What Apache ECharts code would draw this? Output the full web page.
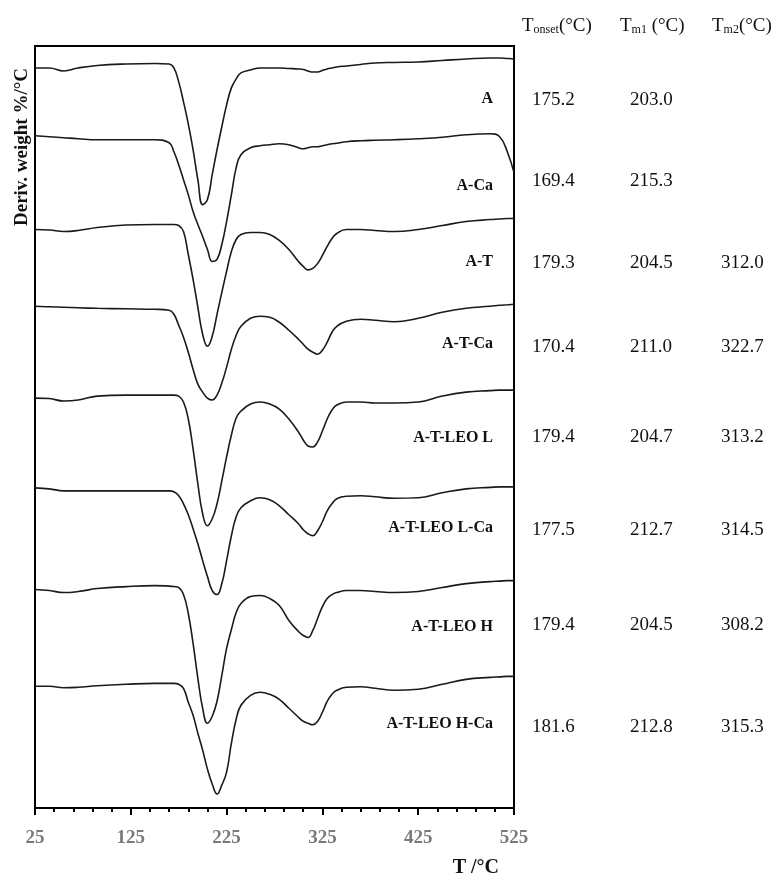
<!DOCTYPE html>
<html><head><meta charset="utf-8">
<script src="https://cdn.jsdelivr.net/npm/echarts@6/dist/echarts.min.js"></script>
<style>html,body{margin:0;padding:0;background:#fff}#c{width:778px;height:878px}</style>
</head><body><div id="c"></div>
<script>
// ---------- DATA ----------
const temps = [25,40,55,70,90,120,150,165,170,175,180,185,190,195,200,205,210,215,220,225,230,235,240,250,260,270,280,290,300,305,310,315,320,325,330,335,340,350,365,380,400,425,450,475,500,510,518,525];
const sampleNames = ['A','A-Ca','A-T','A-T-Ca','A-T-LEO L','A-T-LEO L-Ca','A-T-LEO H','A-T-LEO H-Ca'];
// vertical stacking offset of each curve (axis units)
const offsets = [7.42, 6.73, 5.80, 5.03, 4.11, 3.21, 2.19, 1.22];
const dtgA      = [0,0,-0.03,0,0.025,0.04,0.045,0.04,0,-0.14,-0.34,-0.56,-0.82,-1.12,-1.37,-1.32,-1.07,-0.82,-0.59,-0.37,-0.2,-0.11,-0.05,-0.02,0,0,0,-0.005,-0.01,-0.015,-0.03,-0.04,-0.04,-0.025,-0.01,0,0.01,0.02,0.035,0.05,0.055,0.06,0.075,0.09,0.1,0.1,0.095,0.09];
const dtgACa    = [0.01,0,-0.01,-0.02,-0.03,-0.03,-0.03,-0.06,-0.15,-0.28,-0.43,-0.58,-0.75,-0.88,-1.0,-1.13,-1.25,-1.23,-1.08,-0.85,-0.58,-0.31,-0.18,-0.11,-0.09,-0.08,-0.07,-0.08,-0.11,-0.12,-0.11,-0.1,-0.1,-0.09,-0.08,-0.07,-0.065,-0.05,-0.04,-0.035,-0.03,-0.02,-0.005,0.02,0.03,0,-0.15,-0.36];
const dtgAT     = [0,-0.005,-0.02,-0.01,0.02,0.045,0.05,0.05,0.05,0.04,-0.02,-0.25,-0.5,-0.78,-1.05,-1.17,-1.07,-0.85,-0.63,-0.42,-0.22,-0.1,-0.05,-0.03,-0.03,-0.05,-0.11,-0.2,-0.32,-0.37,-0.405,-0.39,-0.34,-0.26,-0.17,-0.09,-0.04,0,0,-0.01,-0.02,0,0.04,0.08,0.1,0.105,0.11,0.11];
const dtgATCa   = [0,-0.005,-0.01,-0.015,-0.02,-0.025,-0.03,-0.04,-0.08,-0.19,-0.31,-0.46,-0.63,-0.78,-0.86,-0.92,-0.94,-0.89,-0.77,-0.61,-0.43,-0.29,-0.2,-0.12,-0.1,-0.11,-0.16,-0.24,-0.33,-0.38,-0.43,-0.46,-0.48,-0.44,-0.36,-0.26,-0.2,-0.15,-0.13,-0.14,-0.155,-0.12,-0.06,-0.02,0,0.01,0.015,0.02];
const dtgATLL   = [0,-0.005,-0.03,-0.02,0.02,0.03,0.03,0.03,0.03,0.02,-0.04,-0.21,-0.51,-0.86,-1.16,-1.28,-1.21,-1.06,-0.83,-0.59,-0.37,-0.2,-0.13,-0.06,-0.04,-0.06,-0.11,-0.21,-0.34,-0.42,-0.48,-0.49,-0.44,-0.33,-0.21,-0.12,-0.07,-0.04,-0.04,-0.05,-0.05,-0.04,0.02,0.06,0.075,0.08,0.08,0.08];
const dtgATLLCa = [0,-0.01,-0.03,-0.03,-0.03,-0.03,-0.03,-0.03,-0.04,-0.08,-0.16,-0.27,-0.41,-0.56,-0.73,-0.89,-1.03,-1.07,-0.96,-0.73,-0.48,-0.29,-0.2,-0.13,-0.1,-0.12,-0.18,-0.27,-0.36,-0.42,-0.46,-0.48,-0.43,-0.34,-0.23,-0.16,-0.11,-0.085,-0.08,-0.09,-0.105,-0.1,-0.05,-0.01,0.005,0.01,0.01,0.01];
const dtgATLH   = [0,-0.01,-0.03,-0.02,0.01,0.03,0.04,0.035,0.03,0.02,-0.05,-0.24,-0.54,-0.89,-1.19,-1.34,-1.27,-1.12,-0.86,-0.59,-0.4,-0.23,-0.14,-0.07,-0.06,-0.09,-0.16,-0.31,-0.42,-0.46,-0.48,-0.41,-0.29,-0.17,-0.09,-0.05,-0.03,-0.01,-0.01,-0.02,-0.03,-0.02,0.02,0.06,0.08,0.085,0.09,0.09];
const dtgATLHCa = [0,0,-0.015,-0.01,0.005,0.02,0.03,0.03,0.03,0.02,-0.02,-0.16,-0.29,-0.47,-0.64,-0.83,-0.98,-1.08,-0.99,-0.86,-0.57,-0.33,-0.19,-0.09,-0.06,-0.08,-0.13,-0.22,-0.31,-0.35,-0.37,-0.385,-0.35,-0.26,-0.15,-0.08,-0.04,-0.01,-0.005,-0.02,-0.04,-0.03,0.02,0.07,0.09,0.095,0.1,0.1];
const tOnset = ['175.2','169.4','179.3','170.4','179.4','177.5','179.4','181.6'];
const tM1    = ['203.0','215.3','204.5','211.0','204.7','212.7','204.5','212.8'];
const tM2    = ['','','312.0','322.7','313.2','314.5','308.2','315.3'];
const xMin = 25, xMax = 525, xStep = 100;

// ---------- LAYOUT ----------
const curves = [dtgA, dtgACa, dtgAT, dtgATCa, dtgATLL, dtgATLLCa, dtgATLH, dtgATLHCa];
const FONT = 'Liberation Serif';
const labelY = [99, 186, 262, 344, 438, 528, 627, 724];
const rowY   = [100, 181, 263, 347, 437, 530, 625, 727];
const colX   = [532, 630, 721];

const chart = echarts.init(document.getElementById('c'), null, {renderer: 'canvas'});

const series = sampleNames.map((n, k) => ({
  type: 'line', name: n,
  data: temps.map((t, i) => [t, +(offsets[k] + curves[k][i]).toFixed(4)]),
  symbol: 'none', showSymbol: false,
  smooth: 0.45,
  lineStyle: {color: '#1a1a1a', width: 1.6},
  clip: true, silent: true
}));

const graphic = [];
graphic.push({type: 'text', x: 22, y: 147, rotation: Math.PI / 2,
  style: {text: 'Deriv. weight %/°C', fontFamily: FONT, fontSize: 19, fontWeight: 'bold', fill: '#111', align: 'center', verticalAlign: 'middle'}});
sampleNames.forEach((n, k) => graphic.push({type: 'text', x: 493, y: labelY[k],
  style: {text: n, fontFamily: FONT, fontSize: 16, fontWeight: 'bold', fill: '#111', align: 'right', verticalAlign: 'middle'}}));
const richH = {
  m: {fontFamily: FONT, fontSize: 19, fill: '#111', lineHeight: 24, verticalAlign: 'bottom'},
  s: {fontFamily: FONT, fontSize: 12, fill: '#111', lineHeight: 13, verticalAlign: 'bottom'}
};
[['{m|T}{s|onset}{m|(°C)}', 522], ['{m|T}{s|m1}{m| (°C)}', 620], ['{m|T}{s|m2}{m|(°C)}', 712]].forEach(([t, x]) =>
  graphic.push({type: 'text', x: x, y: 24, style: {text: t, rich: richH, align: 'left', verticalAlign: 'middle'}}));
[tOnset, tM1, tM2].forEach((col, c) => col.forEach((v, k) => {
  if (v) graphic.push({type: 'text', x: colX[c], y: rowY[k],
    style: {text: v, fontFamily: FONT, fontSize: 19, fill: '#111', align: 'left', verticalAlign: 'middle'}});
}));

chart.setOption({
  animation: false,
  backgroundColor: '#fff',
  grid: {left: 35, right: 264, top: 46, bottom: 68, show: true, borderColor: '#000', borderWidth: 2, backgroundColor: 'transparent'},
  xAxis: {
    type: 'value', min: xMin, max: xMax, interval: xStep,
    name: 'T /°C', nameLocation: 'end',
    nameTextStyle: {fontFamily: FONT, fontSize: 20, fontWeight: 'bold', color: '#111', align: 'right', verticalAlign: 'top', padding: [50, 0, 0, 0]},
    nameGap: -15,
    axisLine: {show: true, lineStyle: {color: '#000', width: 2}},
    axisTick: {show: true, inside: false, length: 7, lineStyle: {color: '#000', width: 2}},
    minorTick: {show: true, splitNumber: 5, length: 4, lineStyle: {color: '#000', width: 2}},
    axisLabel: {fontFamily: FONT, fontSize: 19, fontWeight: 'bold', color: '#7a7a7a', margin: 21},
    splitLine: {show: false}
  },
  yAxis: {
    type: 'value', min: 0, max: 7.64,
    axisLine: {show: false}, axisTick: {show: false}, axisLabel: {show: false}, splitLine: {show: false}
  },
  series: series,
  graphic: graphic
});
</script></body></html>
